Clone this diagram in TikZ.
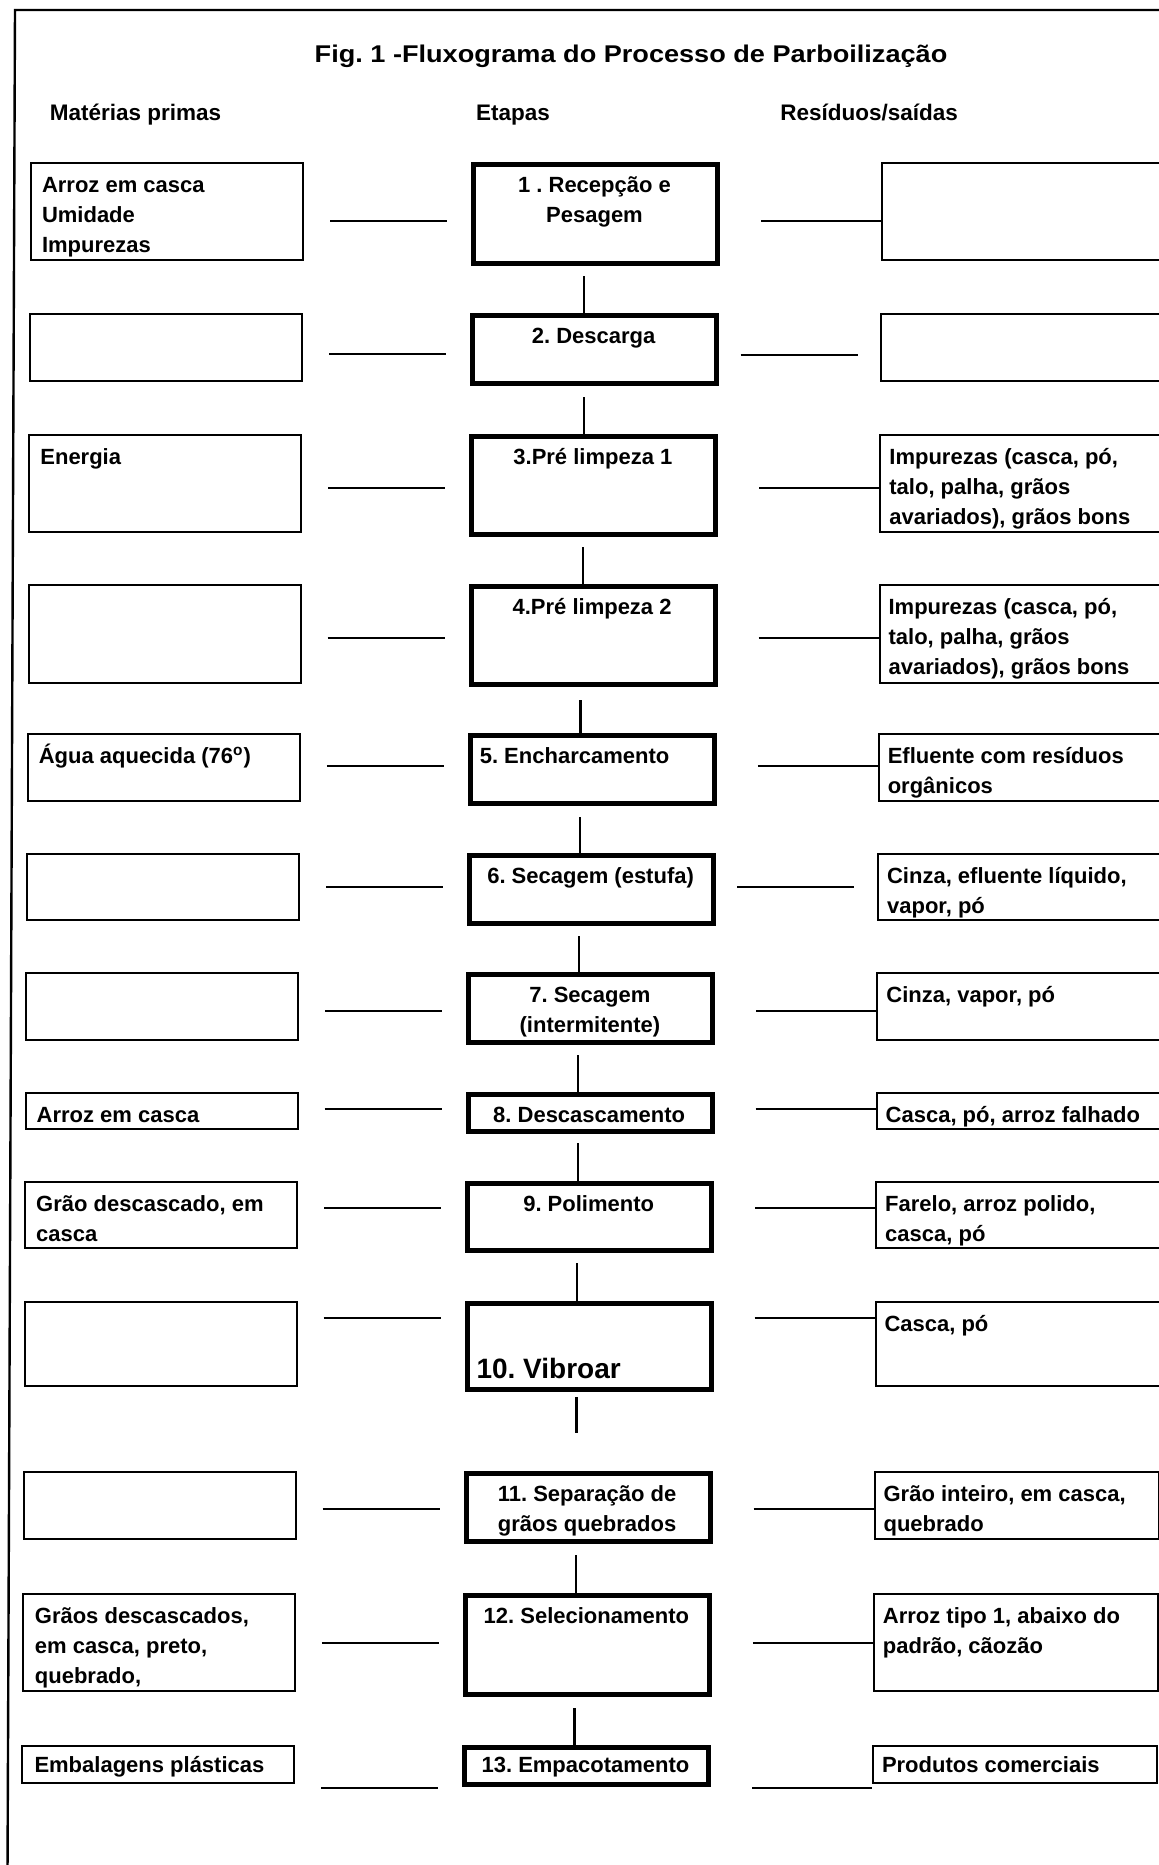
\documentclass[tikz,border=0pt]{standalone}
\usepackage{fontspec}
\setmainfont{Liberation Sans}
\usepackage{graphicx}
\frenchspacing
\newcommand{\ltext}[1]{\parbox[t]{150pt}{\raggedright\fontsize{11}{15}\selectfont\bfseries #1}}
\newcommand{\ctext}[1]{\parbox[t]{124pt}{\centering\fontsize{11}{15}\selectfont\bfseries #1}}
\newcommand{\boxrow}[5]{%
  \node[sidebox, minimum width=136pt, minimum height={(#3-#2-2)*0.5pt}] (L#1) at ({167-#5},{(#2+#3)/2}) {};
  \node[stepbox, minimum width=122pt, minimum height={(#4-#2-5)*0.5pt}] (C#1) at ({595.5-#5},{(#2+#4)/2}) {};
  \node[sidebox, minimum width=142pt, minimum height={(#3-#2-2)*0.5pt}] (R#1) at ({1024-#5},{(#2+#3)/2}) {};
}
\tikzset{
  sidebox/.style={draw, line width=1pt, inner sep=0pt},
  stepbox/.style={draw, line width=2.5pt, inner sep=0pt},
  conn/.style={line width=1.3pt},
  vconn/.style={line width=1.1pt},
  frame/.style={line width=1.2pt},
  txt/.style={inner sep=0pt, outer sep=0pt},
  head/.style={inner sep=0pt, anchor=base west, font=\fontsize{11.25}{14}\selectfont\bfseries}
}
\begin{document}
\begin{tikzpicture}[x=0.5pt,y=-0.5pt]
\clip (0,0) rectangle (1159,1865);
\fill[white] (0,0) rectangle (1159,1865);
% frame
\coordinate (f1) at (1170,10);
\coordinate (f2) at (15,10);
\coordinate (f3) at (7.5,1875);
\draw[frame] (f1) -- (f2) -- (f3);
% title and headers
\node[txt, anchor=base] (title) at (631,62) {\scalebox{1.12}[1]{\fontsize{12.1}{14}\selectfont\bfseries Fig. 1 -Fluxograma do Processo de Parboilização}};
\node[head] (h1) at (49.5,120) {Matérias primas};
\node[head] (h2) at (475.7,120) {Etapas};
\node[head] (h3) at (780,120) {Resíduos/saídas};
% boxes
\boxrow{1}{162}{261}{266}{0}
\boxrow{2}{313}{382}{386}{0.9}
\boxrow{3}{434}{533}{537}{1.6}
\boxrow{4}{584}{684}{687}{2.4}
\boxrow{5}{733}{802}{806}{3.2}
\boxrow{6}{853}{921}{926}{3.9}
\boxrow{7}{972}{1041}{1045}{4.6}
\boxrow{8}{1092}{1130}{1134}{5.3}
\boxrow{9}{1181}{1249}{1253}{5.8}
\boxrow{10}{1301}{1387}{1392}{6.5}
\boxrow{11}{1471}{1540}{1544}{7.4}
\boxrow{12}{1593}{1692}{1697}{8.1}
\boxrow{13}{1745}{1784}{1787}{9}
% texts left
\node[txt, anchor=base west] (tl1) at (42,192.5) {\ltext{Arroz em casca\\Umidade\\Impurezas}};
\node[txt, anchor=base west] (tl3) at (40.4,464.5) {\ltext{Energia}};
\node[txt, anchor=base west] (tl5) at (38.8,763.5) {\ltext{Água aquecida (76\textsuperscript{o})}};
\node[txt, anchor=base west] (tl8) at (36.7,1122) {\ltext{Arroz em casca}};
\node[txt, anchor=base west] (tl9) at (36.2,1211) {\ltext{Grão descascado, em\\casca}};
\node[txt, anchor=base west] (tl12) at (34.9,1623) {\ltext{Grãos descascados,\\em casca, preto,\\quebrado,}};
\node[txt, anchor=base west] (tl13) at (34.5,1772) {\ltext{Embalagens plásticas}};
% texts center
\node[txt, anchor=base] (tc1) at (594.5,192.5) {\ctext{1 . Recepção e\\Pesagem}};
\node[txt, anchor=base] (tc2) at (593.6,343) {\ctext{2. Descarga}};
\node[txt, anchor=base] (tc3) at (592.9,464.5) {\ctext{3.Pré limpeza 1}};
\node[txt, anchor=base] (tc4) at (592.1,614.5) {\ctext{4.Pré limpeza 2}};
\node[txt, anchor=base west] (tc5) at (479.8,763.5) {\ltext{5. Encharcamento}};
\node[txt, anchor=base] (tc6) at (590.6,883.5) {\ctext{6. Secagem (estufa)}};
\node[txt, anchor=base] (tc7) at (589.9,1002.5) {\ctext{7. Secagem\\(intermitente)}};
\node[txt, anchor=base] (tc8) at (589.2,1122) {\ctext{8. Descascamento}};
\node[txt, anchor=base] (tc9) at (588.7,1211) {\ctext{9. Polimento}};
\node[txt, anchor=base west] (tc10) at (476.5,1378) {\fontsize{14}{16}\selectfont\bfseries 10. Vibroar};
\node[txt, anchor=base] (tc11) at (587.1,1501) {\ctext{11. Separação de\\grãos quebrados}};
\node[txt, anchor=base] (tc12) at (586.4,1623) {\ctext{12. Selecionamento}};
\node[txt, anchor=base] (tc13) at (585.5,1772) {\ctext{13. Empacotamento}};
% texts right
\node[txt, anchor=base west] (tr3) at (889.4,464.5) {\ltext{Impurezas (casca, pó,\\talo, palha, grãos\\avariados), grãos bons}};
\node[txt, anchor=base west] (tr4) at (888.6,614.5) {\ltext{Impurezas (casca, pó,\\talo, palha, grãos\\avariados), grãos bons}};
\node[txt, anchor=base west] (tr5) at (887.8,763.5) {\ltext{Efluente com resíduos\\orgânicos}};
\node[txt, anchor=base west] (tr6) at (887.1,883.5) {\ltext{Cinza, efluente líquido,\\vapor, pó}};
\node[txt, anchor=base west] (tr7) at (886.4,1002.5) {\ltext{Cinza, vapor, pó}};
\node[txt, anchor=base west] (tr8) at (885.7,1122) {\ltext{Casca, pó, arroz falhado}};
\node[txt, anchor=base west] (tr9) at (885.2,1211) {\ltext{Farelo, arroz polido,\\casca, pó}};
\node[txt, anchor=base west] (tr10) at (884.5,1331) {\ltext{Casca, pó}};
\node[txt, anchor=base west] (tr11) at (883.6,1501) {\ltext{Grão inteiro, em casca,\\quebrado}};
\node[txt, anchor=base west] (tr12) at (882.9,1623) {\ltext{Arroz tipo 1, abaixo do\\padrão, cãozão}};
\node[txt, anchor=base west] (tr13) at (882,1772) {\ltext{Produtos comerciais}};
% left connectors
\foreach \i/\y/\s in {1/221/0, 2/354/0.9, 3/488/1.6, 4/638/2.4, 5/766/3.2, 6/887/3.9, 7/1011/4.6, 8/1109/5.3, 9/1208/5.8, 10/1318/6.5, 11/1509/7.4, 12/1643/8.1, 13/1788/9}{
  \coordinate (la\i) at ({330-\s},\y);
  \coordinate (lb\i) at ({447-\s},\y);
  \draw[conn] (la\i) -- (lb\i);
}
% right connectors touching the output boxes
\foreach \i/\y/\s in {1/221/0, 3/488/1.6, 4/638/2.4, 5/766/3.2, 7/1011/4.6, 8/1109/5.3, 9/1208/5.8, 10/1318/6.5, 11/1509/7.4, 12/1643/8.1, 13/1788/9}{
  \coordinate (ra\i) at ({761-\s},\y);
  \draw[conn] (ra\i) -- (R\i.west |- ra\i);
}
% right connectors not touching
\coordinate (ra2) at (740.5,355);
\coordinate (rb2) at (858,355);
\draw[conn] (ra2) -- (rb2);
\coordinate (ra6) at (737,887);
\coordinate (rb6) at (854,887);
\draw[conn] (ra6) -- (rb6);
% vertical connectors
\foreach \i/\j/\x/\y in {1/2/584/276, 2/3/584/397, 3/4/583/547, 4/5/580.5/700, 5/6/580/817, 6/7/579/936, 7/8/578.3/1055, 8/9/578/1143, 9/10/577.3/1263, 11/12/575.7/1555, 12/13/574.5/1708}{
  \coordinate (v\i) at (\x,\y);
  \draw[vconn] (v\i) -- (C\j.north -| v\i);
}
\coordinate (v10a) at (576.5,1397);
\coordinate (v10b) at (576.5,1433);
\draw[vconn] (v10a) -- (v10b);
\end{tikzpicture}
\end{document}
